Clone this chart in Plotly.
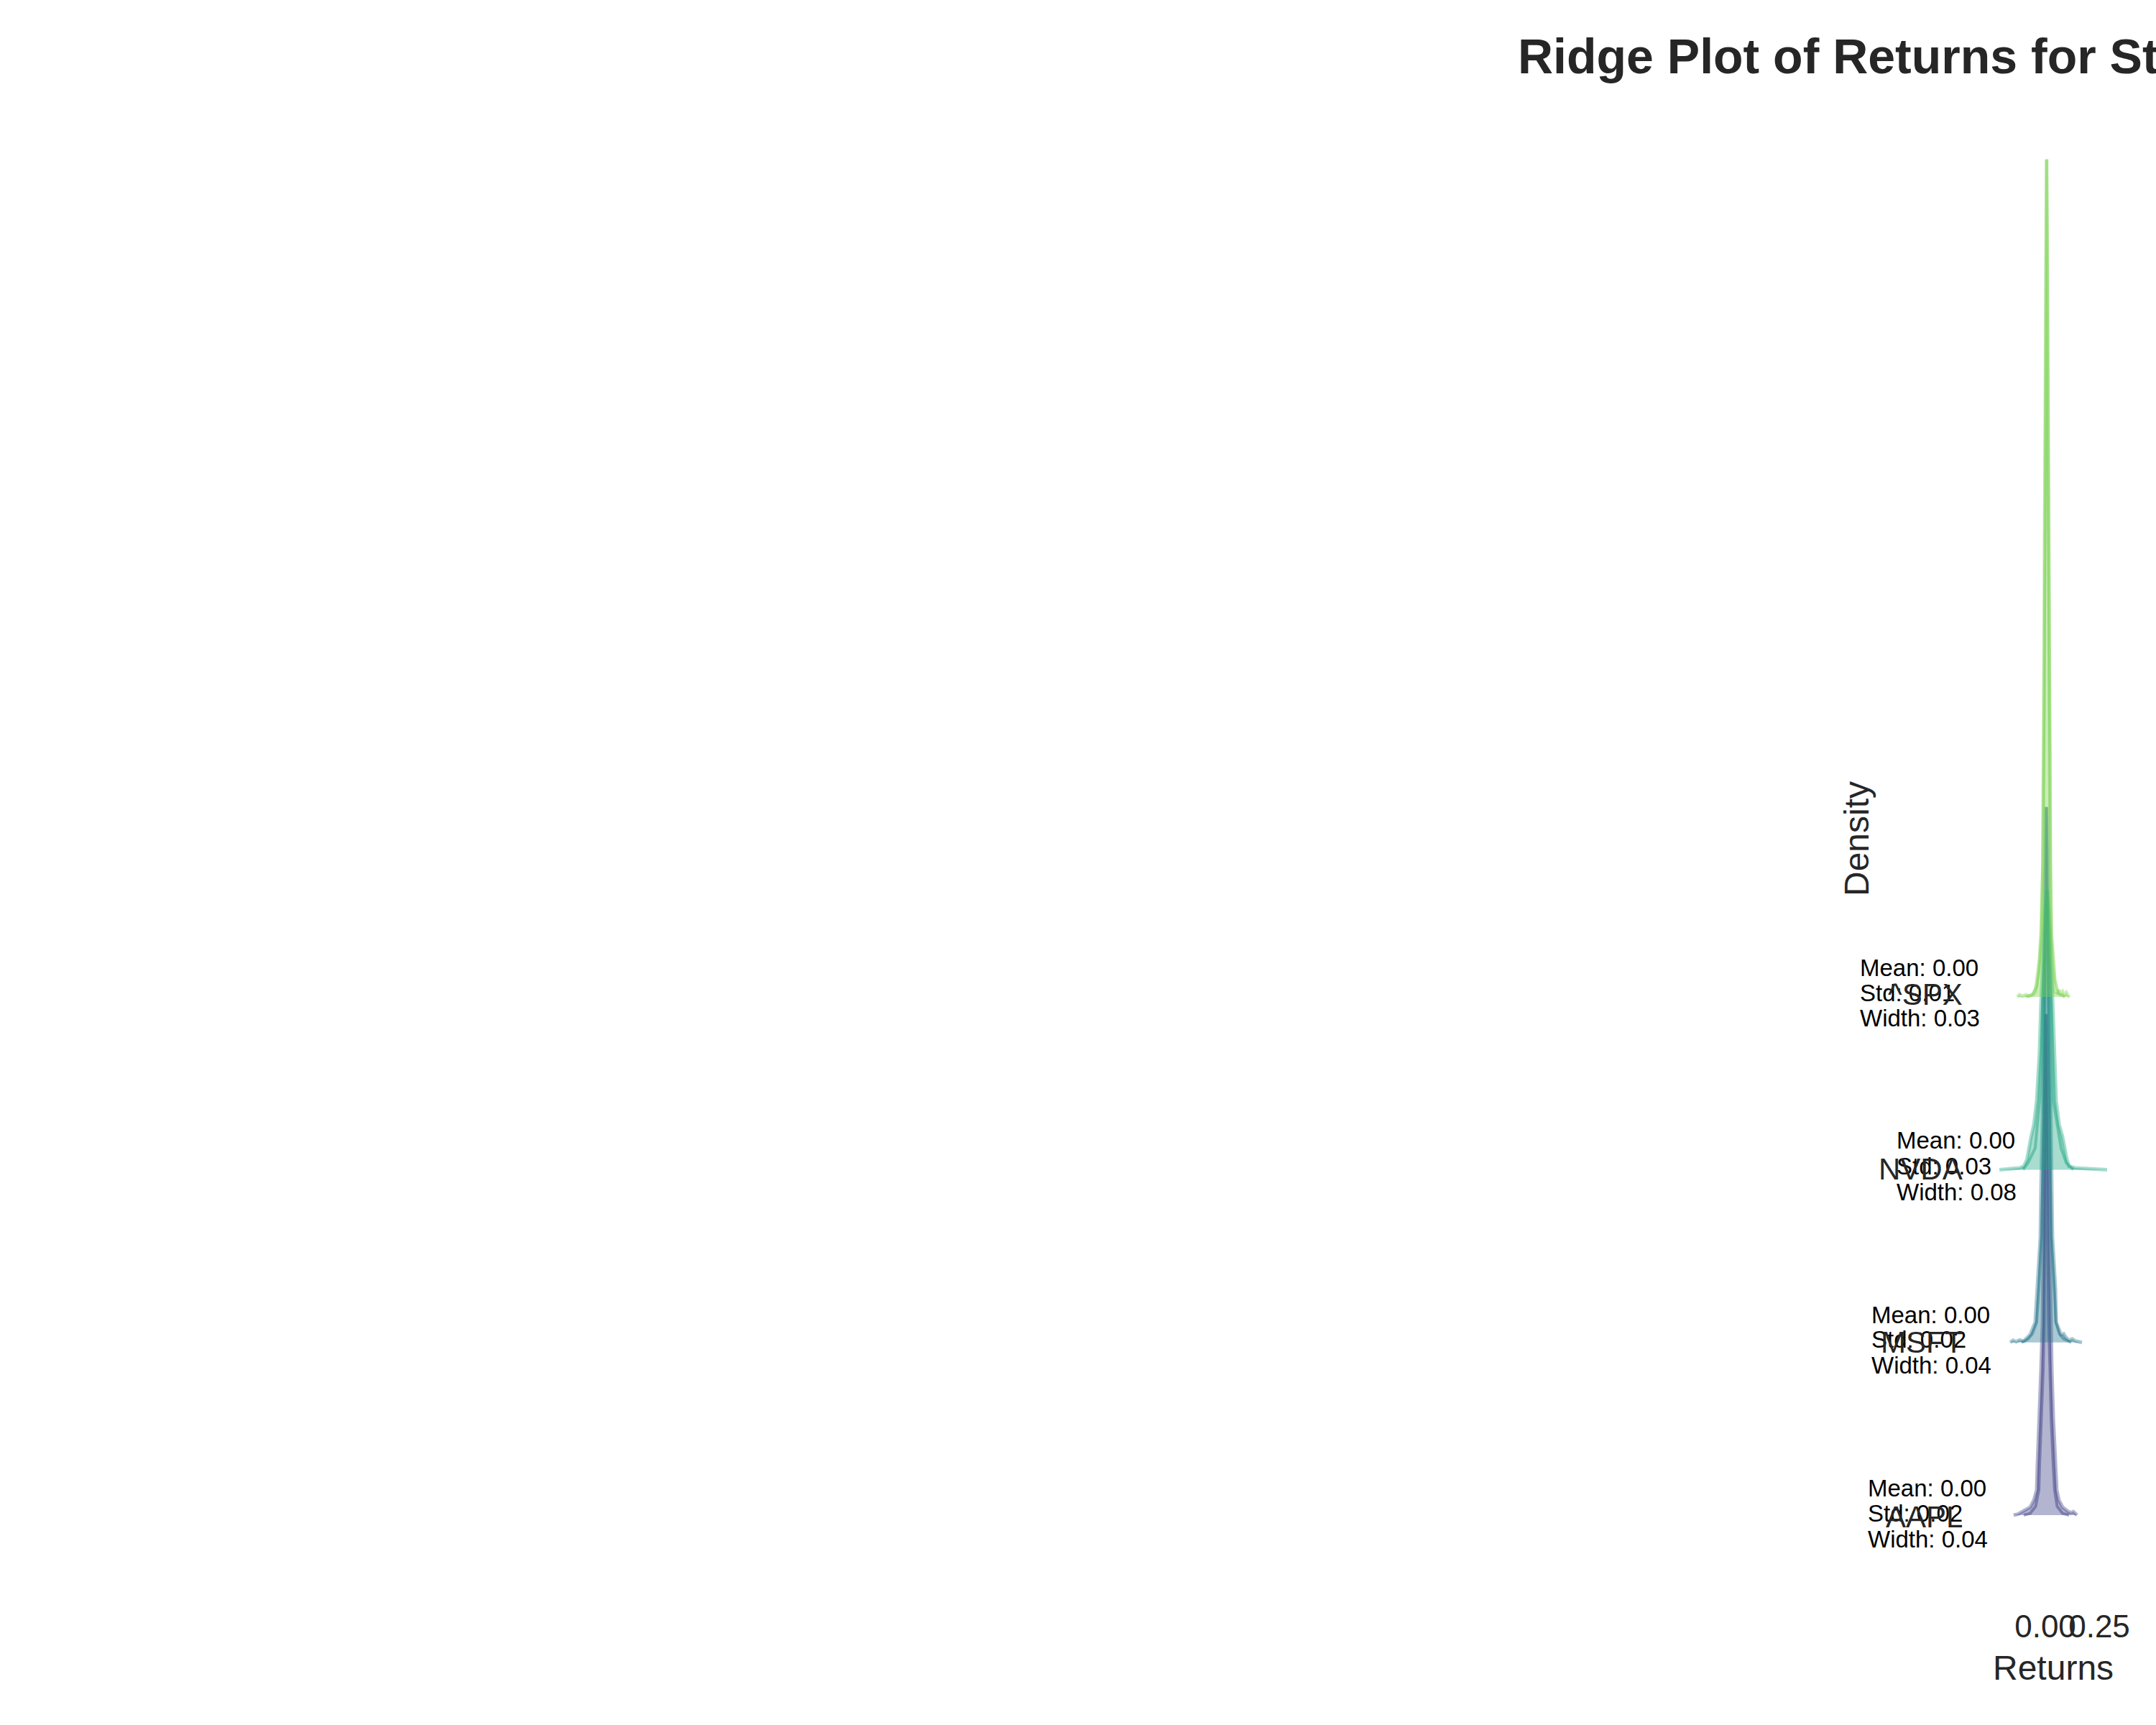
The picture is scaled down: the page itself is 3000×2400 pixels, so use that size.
import plotly.graph_objects as go

# ---------------- data ----------------
tickers = ["AAPL", "MSFT", "NVDA", "^SPX"]
means = [0.00, 0.00, 0.00, 0.00]
stds = [0.02, 0.02, 0.03, 0.01]
widths = [0.04, 0.04, 0.08, 0.03]
x_tick_vals = [0.0, 0.25]
x_tick_text = ["0.00", "0.25"]

# filled density curves (returns, scaled density in ridge units)
aapl_fill_x = [-0.147, -0.127, -0.107, -0.07, -0.053, -0.04, -0.037, -0.027, -0.02, -0.013, -0.009, -0.005, -0.001,
               0.003, 0.007, 0.013, 0.021, 0.027, 0.03, 0.037, 0.047, 0.053, 0.063, 0.08, 0.107, 0.12, 0.13, 0.147]
aapl_fill_d = [0.0, 0.006, 0.02, 0.046, 0.087, 0.146, 0.28, 0.56, 0.84, 1.12, 1.6, 2.2, 2.7,
               2.9, 2.7, 2.2, 1.6, 1.12, 0.84, 0.56, 0.28, 0.146, 0.087, 0.046, 0.02, 0.014, 0.02, 0.0]
aapl_line_x = [-0.1, -0.07, -0.045, -0.03, -0.027, -0.017, -0.01, -0.006, -0.003, 0.0, 0.003,
               0.007, 0.01, 0.016, 0.02, 0.027, 0.037, 0.043, 0.055, 0.08, 0.11]
aapl_line_d = [0.0, 0.01, 0.05, 0.146, 0.28, 0.56, 0.84, 1.12, 1.6, 2.2, 2.9,
               2.2, 1.6, 1.12, 0.84, 0.56, 0.28, 0.146, 0.05, 0.01, 0.0]

msft_fill_x = [-0.163, -0.15, -0.135, -0.12, -0.1, -0.085, -0.07, -0.047, -0.037, -0.023, -0.02, -0.013, -0.008,
               -0.003, 0.005, 0.013, 0.019, 0.025, 0.03, 0.033, 0.047, 0.05, 0.073, 0.085, 0.095, 0.11, 0.125,
               0.14, 0.17]
msft_fill_d = [0.0, 0.012, 0.004, 0.014, 0.008, 0.025, 0.046, 0.117, 0.31, 0.61, 0.9, 1.3, 1.9,
               2.5, 3.1, 2.5, 1.9, 1.3, 0.9, 0.61, 0.31, 0.117, 0.046, 0.05, 0.03, 0.012, 0.02,
               0.008, 0.0]
msft_line_x = [-0.11, -0.08, -0.06, -0.04, -0.03, -0.018, -0.013, -0.008, -0.004, 0.0, 0.005, 0.01, 0.014,
               0.019, 0.024, 0.028, 0.04, 0.05, 0.065, 0.085, 0.12]
msft_line_d = [0.0, 0.02, 0.05, 0.117, 0.31, 0.61, 0.9, 1.3, 1.9, 2.5, 3.1, 2.5, 1.9,
               1.3, 0.9, 0.61, 0.31, 0.117, 0.05, 0.02, 0.0]

nvda_fill_x = [-0.213, -0.18, -0.15, -0.12, -0.1, -0.085, -0.066, -0.053, -0.04, -0.027, -0.02, -0.007, 0.0,
               0.008, 0.017, 0.023, 0.033, 0.04, 0.05, 0.064, 0.08, 0.1, 0.11, 0.14, 0.18, 0.23, 0.287]
nvda_fill_d = [0.0, 0.004, 0.006, 0.01, 0.02, 0.06, 0.19, 0.26, 0.4, 0.68, 0.96, 1.36, 1.5,
               1.62, 1.5, 1.36, 0.96, 0.68, 0.4, 0.26, 0.19, 0.06, 0.02, 0.01, 0.006, 0.004, 0.0]
nvda_line_x = [-0.103, -0.08, -0.047, -0.027, -0.017, -0.013, -0.003, 0.008, 0.02, 0.027, 0.03, 0.037,
               0.073, 0.097, 0.13]
nvda_line_d = [0.0, 0.04, 0.125, 0.4, 0.68, 0.96, 1.36, 1.62, 1.36, 0.96, 0.68, 0.4,
               0.125, 0.04, 0.0]

spx_fill_x = [-0.13, -0.12, -0.105, -0.09, -0.075, -0.06, -0.047, -0.04, -0.027, -0.02, -0.011, -0.007, -0.004,
              -0.001, 0.003, 0.006, 0.009, 0.012, 0.015, 0.018, 0.021, 0.025, 0.03, 0.038, 0.045, 0.055, 0.063,
              0.072, 0.08, 0.088, 0.097, 0.105, 0.113]
spx_fill_d = [0.0, 0.012, 0.004, 0.012, 0.006, 0.012, 0.03, 0.083, 0.22, 0.36, 0.78, 1.6, 2.5,
              3.42, 4.3, 4.85, 4.3, 3.42, 2.5, 1.6, 0.78, 0.36, 0.22, 0.083, 0.03, 0.025, 0.04,
              0.015, 0.03, 0.012, 0.025, 0.008, 0.0]
spx_line_x = [-0.09, -0.06, -0.04, -0.03, -0.018, -0.012, -0.006, -0.003, 0.0, 0.003, 0.006, 0.009, 0.012,
              0.015, 0.018, 0.024, 0.03, 0.045, 0.06, 0.09]
spx_line_d = [0.0, 0.015, 0.06, 0.15, 0.36, 0.78, 1.6, 2.5, 3.42, 4.3, 4.85, 4.3, 3.42,
              2.5, 1.6, 0.78, 0.36, 0.1, 0.02, 0.0]

fill_x = [aapl_fill_x, msft_fill_x, nvda_fill_x, spx_fill_x]
fill_d = [aapl_fill_d, msft_fill_d, nvda_fill_d, spx_fill_d]
line_x = [aapl_line_x, msft_line_x, nvda_line_x, spx_line_x]
line_d = [aapl_line_d, msft_line_d, nvda_line_d, spx_line_d]

# ---------------- style / layout ----------------
W, H = 3000, 2400
colors = [(65, 68, 135), (42, 120, 142), (34, 168, 132), (122, 209, 81)]
FONT = "Liberation Sans, Arial, Helvetica, sans-serif"
TXT = "#262626"


def px(x):
    return x / W


def py(y):
    return 1 - y / H


fig = go.Figure()
for i, t in enumerate(tickers):
    r, g, b = colors[i]
    ys = [i + d for d in fill_d[i]]
    fig.add_trace(go.Scatter(
        x=fill_x[i], y=ys, mode="lines", fill="toself",
        fillcolor=f"rgba({r},{g},{b},0.4)",
        line=dict(color=f"rgba({r},{g},{b},0.4)", width=5),
        hoverinfo="skip", showlegend=False, name=t))
    yl = [i + d for d in line_d[i]]
    fig.add_trace(go.Scatter(
        x=line_x[i], y=yl, mode="lines",
        line=dict(color=f"rgba({r},{g},{b},0.5)", width=4),
        hoverinfo="skip", showlegend=False, name=t))

# axis geometry (pixels)
ax_left, ax_right = 2782, 2932
ax_bottom, ax_top = 2233, 150
zero_px, px_per_unit_x = 2846, 300.0
base_px, px_per_ridge = 2108, 240.3
x_range = [(ax_left - zero_px) / px_per_unit_x, (ax_right - zero_px) / px_per_unit_x]
y_range = [-(ax_bottom - base_px) / px_per_ridge, (base_px - ax_top) / px_per_ridge]

annotations = []
# stats text per ridge: left x, line centres
stat_left = [2597, 2602, 2637, 2586]
stat_y = [[2070, 2105, 2141], [1829, 1864, 1899], [1586, 1622, 1658], [1346, 1381, 1416]]
label_right = 2733
label_y = [2110, 1867, 1627, 1383]
for i, t in enumerate(tickers):
    lines = [f"Mean: {means[i]:.2f}", f"Std: {stds[i]:.2f}", f"Width: {widths[i]:.2f}"]
    for s, yy in zip(lines, stat_y[i]):
        annotations.append(dict(x=px(stat_left[i]), y=py(yy), xref="paper", yref="paper",
                                text=s, showarrow=False, xanchor="left", yanchor="middle",
                                font=dict(family=FONT, size=33, color="black")))
    annotations.append(dict(x=px(label_right), y=py(label_y[i]), xref="paper", yref="paper",
                            text=t, showarrow=False, xanchor="right", yanchor="middle",
                            font=dict(family=FONT, size=42, color=TXT)))

annotations.append(dict(x=px(2857), y=py(2320), xref="paper", yref="paper", text="Returns",
                        showarrow=False, xanchor="center", yanchor="middle",
                        font=dict(family=FONT, size=48, color=TXT)))
annotations.append(dict(x=px(2583), y=py(1167), xref="paper", yref="paper", text="Density",
                        showarrow=False, xanchor="center", yanchor="middle", textangle=-90,
                        font=dict(family=FONT, size=48, color=TXT)))
# title: runs off the right edge of the figure in the reference
title_left = 2110
annotations.append(dict(x=px(title_left), y=py(78), xref="paper", yref="paper",
                        text="<b>Ridge Plot of Returns for Stocks and Market Index</b>",
                        showarrow=False, xanchor="left", yanchor="middle", align="left",
                        font=dict(family=FONT, size=68, color=TXT)))

fig.update_layout(
    width=W, height=H, margin=dict(l=0, r=0, t=0, b=0, pad=0, autoexpand=False),
    paper_bgcolor="white", plot_bgcolor="white",
    showlegend=False,
    xaxis=dict(domain=[px(ax_left), px(ax_right)], range=x_range, automargin=False,
               showgrid=False, zeroline=False, showline=False, ticks="",
               tickvals=x_tick_vals, ticktext=x_tick_text, tickangle=0,
               tickfont=dict(family=FONT, size=44, color=TXT)),
    yaxis=dict(domain=[py(ax_bottom), py(ax_top)], range=y_range, automargin=False,
               showgrid=False, zeroline=False, showline=False, ticks="",
               showticklabels=False),
    annotations=annotations,
)

fig.write_html("out.html")
